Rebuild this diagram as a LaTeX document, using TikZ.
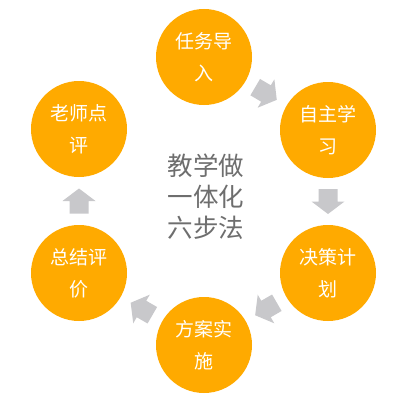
\documentclass[tikz,border=0pt]{standalone}
\usepackage{fontspec}
\newfontfamily\cjk{Noto Sans CJK SC}
\usetikzlibrary{calc}
\definecolor{stepor}{RGB}{255,170,0}
\definecolor{arrowgr}{RGB}{200,200,203}
\definecolor{centergr}{RGB}{110,110,110}
\tikzset{
  stepcircle/.style={circle, fill=stepor, minimum size=96pt, inner sep=0pt, text=white,
    align=center, font=\cjk\fontsize{19}{32}\selectfont},
  blockarrow/.style={fill=arrowgr},
  centertext/.style={text=centergr, align=center, font=\cjk\fontsize{25.5}{31}\selectfont}
}
\newcommand\blockarr[2]{%
  \fill[blockarrow, shift={(#1)}, rotate=#2]
    (-12.5,-9.5) -- (0,-9.5) -- (0,-16.5) -- (12.5,0) -- (0,16.5) -- (0,9.5) -- (-12.5,9.5) -- cycle;}
\begin{document}
\begin{tikzpicture}[x=1pt,y=1pt]
\useasboundingbox[fill=white] (0,0) rectangle (415,400);
\node[stepcircle] (c1) at (204,343) {任务导\\入};
\node[stepcircle] (c2) at (328,270) {自主学\\习};
\node[stepcircle] (c3) at (328,127) {决策计\\划};
\node[stepcircle] (c4) at (204,55) {方案实\\施};
\node[stepcircle] (c5) at (79,127) {总结评\\价};
\node[stepcircle] (c6) at (79,271) {老师点\\评};
\node[centertext] (ct) at (206,203) {教学做\\一体化\\六步法};
\coordinate (m12) at ($(c1)!0.5!(c2)$);
\coordinate (m23) at ($(c2)!0.5!(c3)$);
\coordinate (m34) at ($(c3)!0.5!(c4)$);
\coordinate (m45) at ($(c4)!0.5!(c5)$);
\coordinate (m56) at ($(c5)!0.5!(c6)$);
\blockarr{m12}{-30.5}
\blockarr{m23}{-90}
\blockarr{m34}{210}
\blockarr{m45}{150}
\blockarr{m56}{90}
\end{tikzpicture}
\end{document}
